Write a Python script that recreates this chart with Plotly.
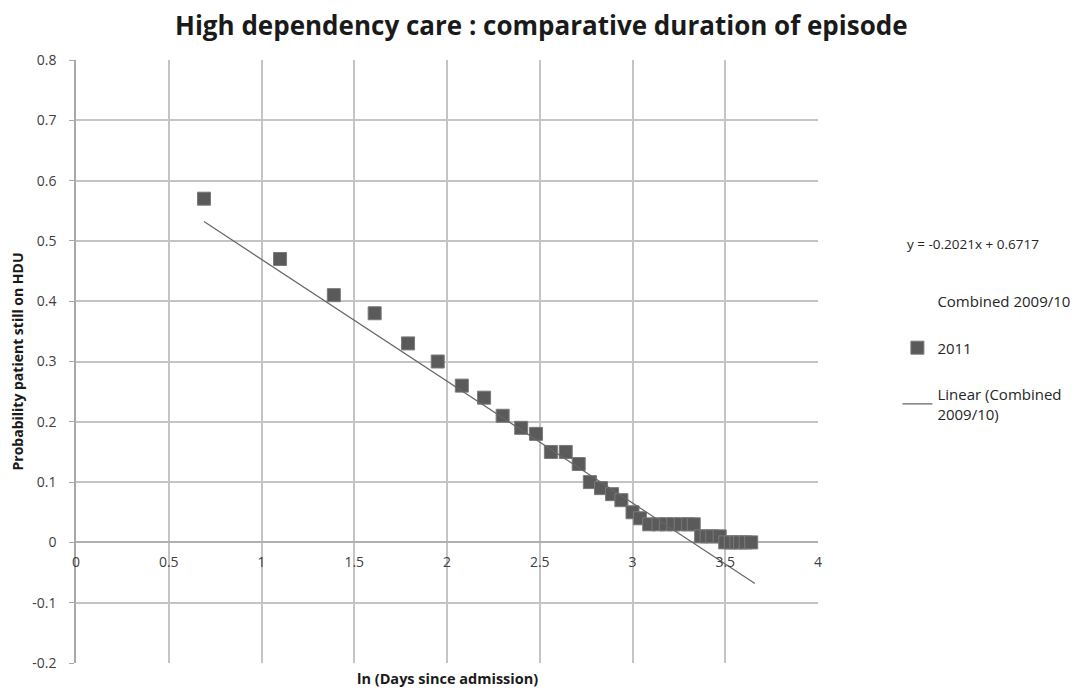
import plotly.graph_objects as go

# 2011 survival points: ln(days since admission) vs probability
x_2011 = [0.69, 1.10, 1.39, 1.61, 1.79, 1.95, 2.08, 2.20, 2.30, 2.40, 2.48,
          2.56, 2.64, 2.71, 2.77, 2.83, 2.89, 2.94, 3.00, 3.04,
          3.09, 3.14, 3.18, 3.22, 3.26, 3.30, 3.33,
          3.37, 3.40, 3.43, 3.47,
          3.50, 3.53, 3.56, 3.58, 3.61, 3.64]
y_2011 = [0.57, 0.47, 0.41, 0.38, 0.33, 0.30, 0.26, 0.24, 0.21, 0.19, 0.18,
          0.15, 0.15, 0.13, 0.10, 0.09, 0.08, 0.07, 0.05, 0.04,
          0.03, 0.03, 0.03, 0.03, 0.03, 0.03, 0.03,
          0.01, 0.01, 0.01, 0.01,
          0.00, 0.00, 0.00, 0.00, 0.00, 0.00]

# linear trend of the combined 2009/10 series (end points as drawn)
trend_x = [0.69, 3.66]
trend_y = [0.532, -0.068]
trend_label = 'y = -0.2021x + 0.6717'

x_ticks = [0, 0.5, 1, 1.5, 2, 2.5, 3, 3.5, 4]
y_ticks = [-0.2, -0.1, 0, 0.1, 0.2, 0.3, 0.4, 0.5, 0.6, 0.7, 0.8]

FONT = 'Open Sans'
GRID = '#c4c4c4'

fig = go.Figure()
# the combined series itself is not drawn, only listed in the legend
fig.add_trace(go.Scatter(x=[None], y=[None], mode='markers', name='Combined 2009/10',
                         legendgroup='a', marker=dict(color='rgba(0,0,0,0)', size=12)))
fig.add_trace(go.Scatter(x=x_2011, y=y_2011, mode='markers', name='2011', legendgroup='b',
                         marker=dict(symbol='square', size=13, color='#5a5a5a',
                                     line=dict(color='#7a7a7a', width=1))))
fig.add_trace(go.Scatter(x=trend_x, y=trend_y, mode='lines', name='Linear (Combined<br>2009/10)',
                         legendgroup='c', line=dict(color='#666666', width=1.2)))

# page body has an 8px margin, so the margins are shifted by that much
fig.update_layout(
    width=1084, height=691,
    margin=dict(l=68, r=274, t=52, b=36),
    paper_bgcolor='white', plot_bgcolor='white',
    font=dict(family=FONT, size=14, color='#404040'),
    title=dict(text='<b>High dependency care : comparative duration of episode</b>',
               x=0.492, xref='container', xanchor='center', y=0.974, yanchor='middle',
               font=dict(family=FONT, size=26, color='#1a1a1a')),
    xaxis=dict(range=[0, 4], tickvals=x_ticks, ticktext=[f'{v:g}' for v in x_ticks],
               showgrid=True, gridcolor=GRID, gridwidth=1.5, zeroline=False,
               showline=False, anchor='free', position=0.2, ticks='',
               ticklabelstandoff=10, automargin=False,
               tickfont=dict(size=14, color='#404040')),
    yaxis=dict(range=[-0.2, 0.8], tickvals=y_ticks, ticktext=[f'{v:g}' for v in y_ticks],
               showgrid=True, gridcolor=GRID, gridwidth=1.5, zeroline=True,
               zerolinecolor='#b0b0b0', zerolinewidth=1.5,
               showline=True, linecolor='#a8a8a8', linewidth=1.5,
               ticks='outside', ticklen=5, tickcolor='#a8a8a8',
               ticklabelstandoff=10, automargin=False,
               tickfont=dict(size=14, color='#404040'),
               title=dict(text='<b>Probability patient still on HDU</b>', standoff=12,
                          font=dict(size=14, color='#1a1a1a'))),
    legend=dict(x=1.107, y=0.627, xanchor='left', yanchor='top', tracegroupgap=24,
                font=dict(size=15, color='#262626'), bgcolor='rgba(0,0,0,0)'),
    annotations=[
        dict(text=trend_label, xref='paper', yref='paper', x=1.117, y=0.695,
             xanchor='left', yanchor='middle', showarrow=False,
             font=dict(size=13.5, color='#262626')),
        dict(text='<b>ln (Days since admission)</b>', xref='paper', yref='paper',
             x=0.5, y=-0.025, xanchor='center', yanchor='middle', showarrow=False,
             font=dict(size=14.5, color='#1a1a1a')),
    ],
    showlegend=True,
)

fig.write_html('out.html')
